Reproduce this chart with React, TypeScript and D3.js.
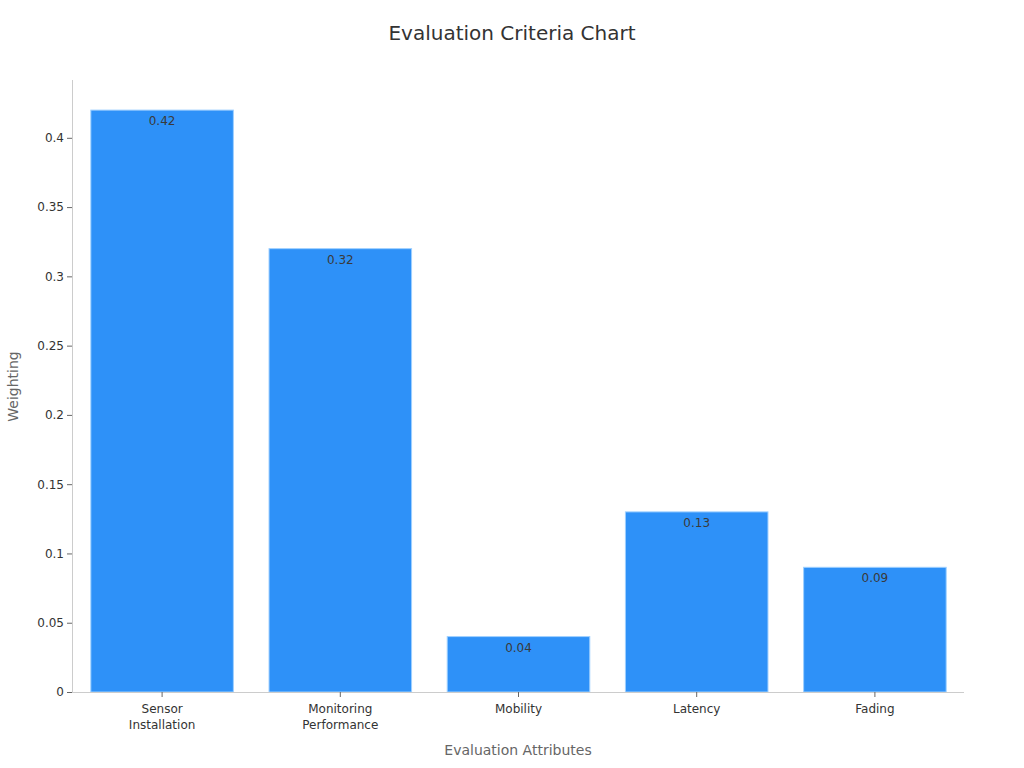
import React, { useEffect, useRef } from 'react';
import * as d3 from 'd3';

const categories = ['Sensor\nInstallation', 'Monitoring\nPerformance', 'Mobility', 'Latency', 'Fading'];
const weights = [0.42, 0.32, 0.04, 0.13, 0.09];
const yTicks = [0, 0.05, 0.1, 0.15, 0.2, 0.25, 0.3, 0.35, 0.4];

const App: React.FC = () => {
  const svgRef = useRef<SVGSVGElement>(null);

  useEffect(() => {
    if (!svgRef.current) return;
    document.body.style.margin = '0';

    const width = 1024;
    const height = 768;
    const margin = { top: 81, right: 60, bottom: 76, left: 72 };
    const font = 'DejaVu Sans, sans-serif';

    const svg = d3.select(svgRef.current)
      .attr('width', width)
      .attr('height', height)
      .style('font-family', font);
    svg.selectAll('*').remove();

    const x = d3.scaleBand<string>()
      .domain(categories)
      .range([margin.left + 1, width - margin.right])
      .paddingInner(0.2)
      .paddingOuter(0.1);

    const y = d3.scaleLinear()
      .domain([0, 0.441])
      .range([height - margin.bottom, margin.top]);

    // Title
    svg.append('text')
      .attr('x', width / 2)
      .attr('y', 40)
      .attr('text-anchor', 'middle')
      .attr('font-size', 20)
      .attr('fill', '#333')
      .text('Evaluation Criteria Chart');

    // Bars
    svg.selectAll('rect.bar')
      .data(weights)
      .enter()
      .append('rect')
      .attr('class', 'bar')
      .attr('x', (_, i) => x(categories[i])!)
      .attr('y', d => y(d))
      .attr('width', x.bandwidth())
      .attr('height', d => y(0) - y(d))
      .attr('fill', '#2e91f8')
      .attr('stroke', '#9fd0ff')
      .attr('stroke-width', 1);

    // Value labels
    svg.selectAll('text.val')
      .data(weights)
      .enter()
      .append('text')
      .attr('class', 'val')
      .attr('x', (_, i) => x(categories[i])! + x.bandwidth() / 2)
      .attr('y', d => y(d) + 15)
      .attr('text-anchor', 'middle')
      .attr('font-size', 12)
      .attr('fill', '#3a3a3a')
      .text(d => d.toString());

    // Y axis
    const yAxis = svg.append('g')
      .attr('transform', `translate(${margin.left},0)`)
      .call(d3.axisLeft(y).tickValues(yTicks).tickSize(5).tickSizeOuter(0).tickFormat(d => String(+d)));
    yAxis.select('.domain').attr('stroke', '#ccc').attr('d', `M0.5,${margin.top - 1}V${height - margin.bottom + 0.5}`);
    yAxis.selectAll('.tick line').attr('stroke', '#666');
    yAxis.selectAll('.tick text')
      .attr('font-size', 12)
      .attr('font-family', font)
      .attr('fill', '#333')
      .attr('x', -8);

    // X axis
    const xAxis = svg.append('g')
      .attr('transform', `translate(0,${height - margin.bottom})`)
      .call(d3.axisBottom(x).tickSize(5).tickSizeOuter(0).tickFormat(() => ''));
    xAxis.select('.domain').attr('stroke', '#ccc').attr('d', `M${margin.left},0.5H${width - margin.right}`);
    xAxis.selectAll('.tick line').attr('stroke', '#666');
    xAxis.selectAll('.tick text').remove();
    xAxis.selectAll<SVGGElement, string>('.tick')
      .append('text')
      .attr('text-anchor', 'middle')
      .attr('font-size', 12)
      .attr('font-family', font)
      .attr('fill', '#333')
      .selectAll('tspan')
      .data(d => d.split('\n'))
      .enter()
      .append('tspan')
      .attr('x', 0)
      .attr('y', (_, i) => 21 + i * 15.5)
      .text(d => d);

    // Axis titles
    svg.append('text')
      .attr('x', (margin.left + width - margin.right) / 2)
      .attr('y', 755)
      .attr('text-anchor', 'middle')
      .attr('font-size', 14)
      .attr('fill', '#666')
      .text('Evaluation Attributes');

    svg.append('text')
      .attr('transform', `translate(18,${(margin.top + height - margin.bottom) / 2}) rotate(-90)`)
      .attr('text-anchor', 'middle')
      .attr('font-size', 14)
      .attr('fill', '#666')
      .text('Weighting');
  }, []);

  return <svg ref={svgRef}></svg>;
};

export default App;
